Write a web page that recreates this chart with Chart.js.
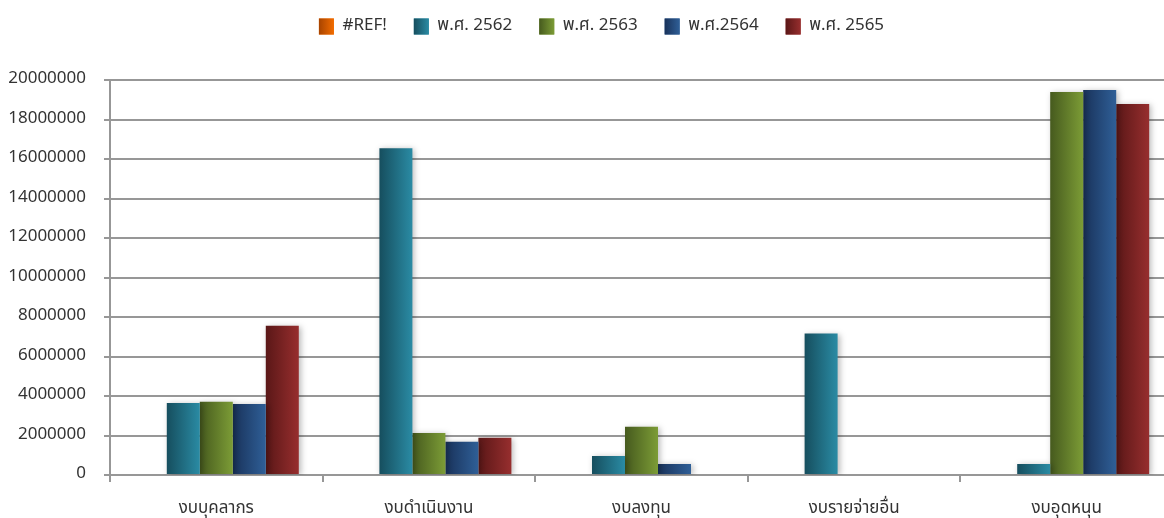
<!DOCTYPE html>
<html>
<head>
<meta charset="utf-8">
<script src="https://cdn.jsdelivr.net/npm/chart.js@4.4.1/dist/chart.umd.min.js"></script>
<style>
  html, body { margin: 0; padding: 0; background: #fff; overflow: hidden; }
  #wrap { width: 1173px; height: 518px; position: relative; }
</style>
</head>
<body>
<div id="wrap"><canvas id="budgetChart"></canvas></div>
<script>
// data
const categories = ['งบบุคลากร', 'งบดำเนินงาน', 'งบลงทุน', 'งบรายจ่ายอื่น', 'งบอุดหนุน'];
const seriesNames = ['#REF!', 'พ.ศ. 2562', 'พ.ศ. 2563', 'พ.ศ.2564', 'พ.ศ. 2565'];
const refValues = [null, null, null, null, null];
const values2562 = [3650000, 16550000, 960000, 7160000, 560000];
const values2563 = [3710000, 2130000, 2440000, null, 19390000];
const values2564 = [3600000, 1680000, 560000, null, 19490000];
const values2565 = [7560000, 1880000, null, null, 18780000];
const yTicks = [0, 2000000, 4000000, 6000000, 8000000, 10000000, 12000000, 14000000, 16000000, 18000000, 20000000];

// gradient pairs: dark left -> light right
const fills = [
    ['#a84400', '#f26c00'],
    ['#164e5e', '#2a8ba4'],
    ['#465a1e', '#7c9c36'],
    ['#19325a', '#2f5f97'],
    ['#5a1717', '#972e2e']
];
const catPct = 0.776;
const gridColor = '#979797';
const textColor = '#333';
const font = "'Noto Sans Thai', 'Noto Sans', sans-serif";

function barFill(ctx) {
    const chart = ctx.chart;
    const xs = chart.scales.x;
    const c = fills[ctx.datasetIndex];
    if (!xs || ctx.dataIndex === undefined || !xs.width) return c[1];
    const groupW = xs.width / categories.length * catPct;
    const barW = groupW / seriesNames.length;
    const left = xs.getPixelForValue(ctx.dataIndex) - groupW / 2 + ctx.datasetIndex * barW;
    const g = chart.ctx.createLinearGradient(left, 0, left + barW, 0);
    g.addColorStop(0, c[0]);
    g.addColorStop(1, c[1]);
    return g;
}

const allValues = [refValues, values2562, values2563, values2564, values2565];

// soft shadow under bars + gradient legend boxes
const looks = {
    id: 'looks',
    afterLayout(chart) {
        // legend sits a little right of centre in the original
        if (chart.legend) {
            chart.legend.left += 15;
            chart.legend.right += 15;
        }
    },
    beforeDatasetsDraw(chart) {
        const ctx = chart.ctx;
        ctx.save();
        ctx.shadowColor = 'rgba(0,0,0,0.28)';
        ctx.shadowBlur = 6;
        ctx.shadowOffsetX = 2;
        ctx.shadowOffsetY = 1;
    },
    afterDatasetsDraw(chart) {
        chart.ctx.restore();
    },
    afterDraw(chart) {
        const lg = chart.legend;
        if (!lg || !lg.legendHitBoxes) return;
        const ctx = chart.ctx;
        const bw = lg.options.labels.boxWidth, bh = lg.options.labels.boxHeight;
        const fs = lg.options.labels.font.size;
        lg.legendHitBoxes.forEach((hb, i) => {
            const top = hb.top + Math.max((fs - bh) / 2, 0);
            const g = ctx.createLinearGradient(hb.left, 0, hb.left + bw, 0);
            g.addColorStop(0, fills[i][0]);
            g.addColorStop(1, fills[i][1]);
            ctx.fillStyle = g;
            ctx.fillRect(hb.left, top, bw, bh);
        });
    }
};

new Chart(document.getElementById('budgetChart'), {
    type: 'bar',
    data: {
        labels: categories,
        datasets: seriesNames.map((name, i) => ({
            label: name,
            data: allValues[i],
            backgroundColor: barFill,
            borderWidth: 0,
            barPercentage: 1,
            categoryPercentage: catPct
        }))
    },
    options: {
        responsive: true,
        maintainAspectRatio: false,
        animation: false,
        layout: { padding: { top: -9, left: 0, right: 0, bottom: 0 } },
        plugins: {
            tooltip: { enabled: false },
            legend: {
                position: 'top',
                labels: {
                    color: textColor,
                    font: { family: font, size: 17 },
                    boxWidth: 15,
                    boxHeight: 16,
                    padding: 27
                }
            }
        },
        scales: {
            x: {
                grid: { drawOnChartArea: false, color: gridColor, lineWidth: 2, tickLength: 7 },
                border: { color: gridColor, width: 2 },
                ticks: { color: textColor, font: { family: font, size: 17 }, padding: 17, maxRotation: 0 },
                afterFit(scale) { scale.height = 43; }
            },
            y: {
                min: 0,
                max: 20000000,
                afterBuildTicks(scale) { scale.ticks = yTicks.map(v => ({ value: v })); },
                grid: { color: gridColor, lineWidth: 2, tickLength: 6 },
                border: { color: gridColor, width: 2 },
                ticks: { color: textColor, font: { family: font, size: 17 }, padding: 18, callback: v => String(v) },
                afterFit(scale) { scale.width = 110; }
            }
        }
    },
    plugins: [looks, {
        id: 'legendHeight',
        beforeInit(chart) {
            const fit = chart.legend.fit;
            chart.legend.fit = function () {
                fit.call(this);
                this.height = 89;
            };
        }
    }]
});
</script>
</body>
</html>
